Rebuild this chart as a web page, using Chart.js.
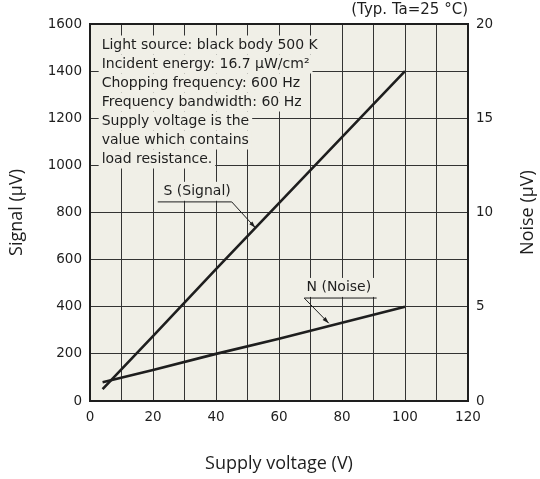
<!DOCTYPE html>
<html>
<head>
<meta charset="utf-8">
<script src="https://cdn.jsdelivr.net/npm/chart.js@4/dist/chart.umd.min.js"></script>
<style>
  html, body { margin: 0; padding: 0; background: #fff; }
  canvas { display: block; }
</style>
</head>
<body>
<canvas id="myChart" width="540" height="479"></canvas>
<script>
// supply voltage (V)
const voltage = [4, 20, 40, 60, 80, 100];
const signal = [50, 275, 560, 840, 1120, 1400];   // µV, left axis
const noise = [1.0, 1.65, 2.5, 3.3, 4.15, 5.0];   // µV, right axis

const conditions = [
  'Light source: black body 500 K',
  'Incident energy: 16.7 µW/cm²',
  'Chopping frequency: 600 Hz',
  'Frequency bandwidth: 60 Hz',
  'Supply voltage is the',
  'value which contains',
  'load resistance.'
];

const ink = '#1e1e1e';
const plotBg = '#f0efe7';
const tickFont = { family: 'DejaVu Sans', size: 13.5 };
const titleFont = { family: 'Open Sans', size: 18 };

function maskedText(ctx, text, x, y, align) {
  const w = ctx.measureText(text).width;
  const x0 = align === 'center' ? x - w / 2 : x;
  ctx.fillStyle = plotBg;
  ctx.fillRect(x0 - 3, y - 9.5, w + 6, 19);
  ctx.fillStyle = ink;
  ctx.fillText(text, x0, y);
}

function leader(ctx, x1, y1, x2, y2, ux1, ux2) {
  ctx.strokeStyle = ink;
  ctx.lineWidth = 1;
  ctx.beginPath();
  ctx.moveTo(ux1, y1);
  ctx.lineTo(ux2, y1);
  ctx.moveTo(x1, y1);
  ctx.lineTo(x2, y2);
  ctx.stroke();
  const a = Math.atan2(y2 - y1, x2 - x1);
  ctx.fillStyle = ink;
  ctx.beginPath();
  ctx.moveTo(x2, y2);
  ctx.lineTo(x2 - 7 * Math.cos(a - 0.3), y2 - 7 * Math.sin(a - 0.3));
  ctx.lineTo(x2 - 7 * Math.cos(a + 0.3), y2 - 7 * Math.sin(a + 0.3));
  ctx.closePath();
  ctx.fill();
}

const extras = {
  id: 'extras',
  beforeDraw(chart) {
    const { ctx, chartArea: a } = chart;
    ctx.save();
    ctx.fillStyle = plotBg;
    ctx.fillRect(a.left, a.top, a.right - a.left, a.bottom - a.top);
    ctx.restore();
  },
  beforeDatasetsDraw(chart) {
    const { ctx, chartArea: a } = chart;
    const xs = chart.scales.x, ys = chart.scales.y;
    ctx.save();
    ctx.font = '14px "DejaVu Sans"';
    ctx.textBaseline = 'middle';
    ctx.textAlign = 'left';
    conditions.forEach((t, i) => {
      maskedText(ctx, t, xs.getPixelForValue(3.7), a.top + 21 + i * 19, 'left');
    });

    // S (Signal) label with leader
    maskedText(ctx, 'S (Signal)', xs.getPixelForValue(34), ys.getPixelForValue(890), 'center');
    leader(ctx, xs.getPixelForValue(45), ys.getPixelForValue(845),
      xs.getPixelForValue(52.5), ys.getPixelForValue(735),
      xs.getPixelForValue(21.5), xs.getPixelForValue(45));

    // N (Noise) label with leader
    maskedText(ctx, 'N (Noise)', xs.getPixelForValue(79), ys.getPixelForValue(482), 'center');
    leader(ctx, xs.getPixelForValue(68), ys.getPixelForValue(437),
      xs.getPixelForValue(75.8), ys.getPixelForValue(330),
      xs.getPixelForValue(68), xs.getPixelForValue(91));
    ctx.restore();
  },
  afterDatasetsDraw(chart) {
    const { ctx, chartArea: a } = chart;
    ctx.save();
    ctx.strokeStyle = ink;
    ctx.lineWidth = 2;
    ctx.strokeRect(a.left, a.top, a.right - a.left, a.bottom - a.top);
    ctx.font = '15px "DejaVu Sans"';
    ctx.fillStyle = ink;
    ctx.textAlign = 'right';
    ctx.textBaseline = 'middle';
    ctx.fillText('(Typ. Ta=25 °C)', a.right, 10);
    // right axis title reads bottom-to-top like the left one
    ctx.translate(528, (a.top + a.bottom) / 2);
    ctx.rotate(-Math.PI / 2);
    ctx.textAlign = 'center';
    ctx.font = '18px "Open Sans"';
    ctx.fillText('Noise (µV)', 0, 0);
    ctx.restore();
  }
};

const ctx = document.getElementById('myChart');

const chart = new Chart(ctx, {
  type: 'line',
  data: {
    labels: voltage,
    datasets: [{
      label: 'S (Signal)',
      data: voltage.map((v, i) => ({ x: v, y: signal[i] })),
      yAxisID: 'y',
      borderColor: ink,
      borderWidth: 2.6,
      pointRadius: 0,
      tension: 0
    }, {
      label: 'N (Noise)',
      data: voltage.map((v, i) => ({ x: v, y: noise[i] })),
      yAxisID: 'y2',
      borderColor: ink,
      borderWidth: 2.6,
      pointRadius: 0,
      tension: 0
    }]
  },
  options: {
    responsive: false,
    animation: false,
    layout: { padding: { top: 24, left: 0, right: 0, bottom: 0 } },
    plugins: {
      legend: { display: false },
      tooltip: { enabled: false }
    },
    scales: {
      x: {
        type: 'linear',
        min: 0,
        max: 120,
        afterFit: s => { s.height = 78; },
        grid: { color: '#333', lineWidth: 1, drawTicks: false },
        border: { display: false },
        ticks: {
          stepSize: 10,
          autoSkip: false,
          maxRotation: 0,
          padding: 8,
          color: ink,
          font: tickFont,
          callback: v => (v % 20 === 0 ? String(v) : '')
        },
        title: {
          display: true,
          text: 'Supply voltage (V)',
          color: ink,
          font: titleFont,
          padding: { top: 4, bottom: 4 }
        }
      },
      y: {
        position: 'left',
        min: 0,
        max: 1600,
        afterFit: s => { s.width = 90; },
        grid: { color: '#333', lineWidth: 1, drawTicks: false },
        border: { display: false },
        ticks: { stepSize: 200, padding: 8, color: ink, font: tickFont, callback: v => String(v) },
        title: {
          display: true,
          text: 'Signal (µV)',
          color: ink,
          font: titleFont,
          padding: { top: 6, bottom: 6 }
        }
      },
      y2: {
        position: 'right',
        min: 0,
        max: 20,
        afterFit: s => { s.width = 72; },
        grid: { display: false, drawTicks: false },
        border: { display: false },
        ticks: { stepSize: 5, padding: 8, color: ink, font: tickFont, callback: v => String(v) }
      }
    }
  },
  plugins: [extras]
});
</script>
</body>
</html>
